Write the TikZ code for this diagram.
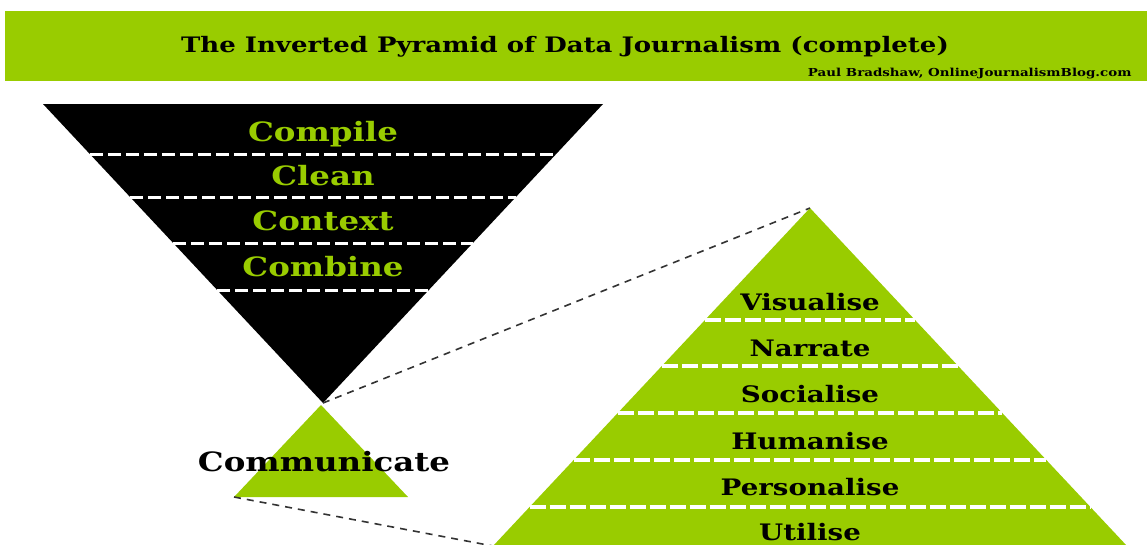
\documentclass[tikz,border=0pt]{standalone}
\usepackage{fontspec}
\setmainfont{DejaVu Serif}[FakeStretch=1.22]
\definecolor{pyrgreen}{HTML}{99CC00}
\definecolor{linkgray}{HTML}{333333}

\begin{document}
\begin{tikzpicture}[x=1pt, y=-1pt,
    band/.style={white, line width=3pt, dash pattern=on 13pt off 5pt},
    greenband/.style={white, line width=3.5pt, dash pattern=on 16pt off 4pt},
    link/.style={linkgray, line width=1.6pt, dash pattern=on 7pt off 6pt},
    stagelabel/.style={font=\fontsize{26.6}{26}\selectfont\bfseries, pyrgreen, anchor=base},
    outlabel/.style={font=\fontsize{22.7}{22}\selectfont\bfseries, anchor=base, inner sep=1pt}]

    \useasboundingbox (0,0) rectangle (1147,544);
    \clip (0,0) rectangle (1147,544);

    % Banner
    \fill[pyrgreen] (5,11) rectangle (1147,81);
    \node[font=\fontsize{21.3}{21}\selectfont\bfseries, anchor=base] (title) at (565,52)
        {The Inverted Pyramid of Data Journalism (complete)};
    \node[font=\fontsize{11}{11}\selectfont\bfseries, anchor=base east] (credit) at (1135,76)
        {Paul Bradshaw, OnlineJournalismBlog.com};

    % Piramide invertita
    \coordinate (inv tl) at (43,104);
    \coordinate (inv tr) at (603,104);
    \coordinate (inv apex) at (323,403);
    \fill[black] (inv tl) -- (inv tr) -- (inv apex) -- cycle;
    \foreach \y in {154,197,243,290}
        \draw[band] ({43+0.9365*(\y-104)},\y) -- ({603-0.9365*(\y-104)},\y);

    % Labels fasi
    \node[stagelabel] (compile) at (323,141) {Compile};
    \node[stagelabel] (clean) at (323,185) {Clean};
    \node[stagelabel] (context) at (323,230) {Context};
    \node[stagelabel] (combine) at (323,276) {Combine};

    % Piccola piramide
    \coordinate (com apex) at (321,405);
    \coordinate (com bl) at (234,497);
    \coordinate (com br) at (408,497);
    \fill[pyrgreen] (com apex) -- (com bl) -- (com br) -- cycle;
    \node[font=\fontsize{26.6}{26}\selectfont\bfseries, anchor=base] (communicate) at (324,471) {Communicate};

    % Grande piramide
    \coordinate (big apex) at (810,208);
    \coordinate (big bl) at (493,546);
    \coordinate (big br) at (1127,546);
    \fill[pyrgreen] (big apex) -- (big bl) -- (big br) -- cycle;
    \foreach \y in {320,366,413,460,507}
        \draw[greenband] ({810-0.9375*(\y-208)},\y) -- ({810+0.9375*(\y-208)},\y);

    % Labels comunicazione
    \node[outlabel] (visualise) at (810,310) {Visualise};
    \node[outlabel] (narrate) at (810,356) {Narrate};
    \node[outlabel] (socialise) at (810,402) {Socialise};
    \node[outlabel] (humanise) at (810,449) {Humanise};
    \node[outlabel] (personalise) at (810,495) {Personalise};
    \node[outlabel] (utilise) at (810,540) {Utilise};

    % Linee di collegamento
    \draw[link] (inv apex) -- (big apex);
    \draw[link] (com bl) -- (big bl);

\end{tikzpicture}
\end{document}
